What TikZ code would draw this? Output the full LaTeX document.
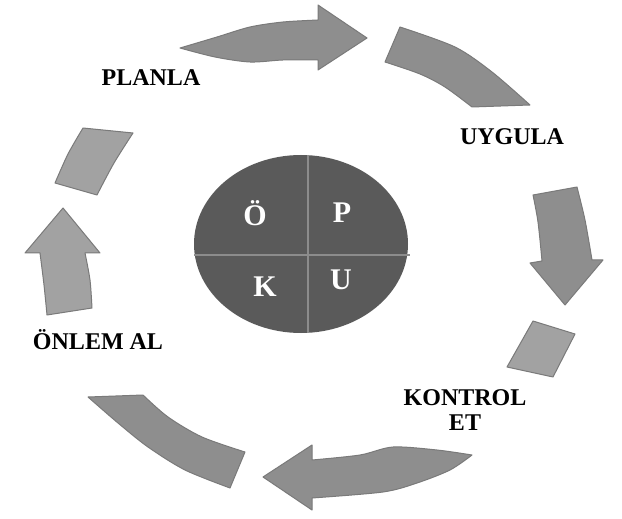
\documentclass[tikz,border=0pt]{standalone}
\usepackage{fontspec}
\setmainfont{Liberation Serif}
\usetikzlibrary{positioning}

\definecolor{cyclegray}{HTML}{8E8E8E}
\definecolor{cyclelight}{HTML}{A2A2A2}
\definecolor{cycleedge}{HTML}{7A7A7A}
\definecolor{hubgray}{HTML}{5A5A5A}
\definecolor{hubline}{HTML}{8C8C8C}

\begin{document}
\begin{tikzpicture}[
  x=0.5pt, y=-0.5pt,
  piece/.style={fill=cyclegray, draw=cycleedge, line width=0.5pt, line join=round},
  lightpiece/.style={piece, fill=cyclelight},
  lbl/.style={align=center, font=\fontsize{12}{12.5}\selectfont\bfseries, inner sep=0pt},
  letter/.style={text=white, font=\fontsize{15}{15}\selectfont\bfseries, inner sep=0pt}
]
\useasboundingbox[fill=white] (0,0) rectangle (622,519);

\filldraw[piece] plot[smooth] coordinates {(180,48) (217,37) (250,27) (283,22) (318,20)}
  -- (318,5) -- (367,38) -- (318,70)
  -- plot[smooth] coordinates {(318,60) (283,60) (250,62) (215,57) (180,48)} -- cycle;

\filldraw[piece] plot[smooth] coordinates {(400,27) (455,47) (492,72) (530,105)}
  -- (472,107)
  -- plot[smooth] coordinates {(472,107) (445,87) (420,74) (385,62)} -- cycle;

\filldraw[piece] (533,195) -- plot[smooth] coordinates {(577,187) (585,220) (592,260)}
  -- (603,260) -- (565,305) -- (530,263)
  -- plot[smooth] coordinates {(542,261) (538,222) (533,195)} -- cycle;

\filldraw[lightpiece] (533,321) -- (575,334) -- (553,377) -- (507,367) -- cycle;

\filldraw[piece] (263,477) -- (312,445)
  -- plot[smooth] coordinates {(312,460) (360,455) (393,447) (437,450) (472,455)}
  -- plot[smooth] coordinates {(472,455) (450,470) (417,483) (383,492) (312,498)}
  -- (312,510) -- cycle;

\filldraw[piece] plot[smooth] coordinates {(88,397) (118,423) (148,447) (185,470) (230,488)}
  -- (245,452)
  -- plot[smooth] coordinates {(245,452) (202,437) (168,417) (143,395)} -- cycle;

\filldraw[lightpiece] (63,208) -- (100,253)
  -- plot[smooth] coordinates {(85,253) (90,280) (92,308)}
  -- plot[smooth] coordinates {(47,315) (44,285) (40,253)}
  -- (25,253) -- cycle;

\filldraw[lightpiece] plot[smooth] coordinates {(83,128) (68,154) (55,183)}
  -- plot[smooth] coordinates {(97,195) (114,163) (133,133)} -- cycle;

\fill[hubgray] (301,244) ellipse [x radius=107, y radius=89];
\draw[hubline, line width=1pt] (308,155) -- (308,333);
\draw[hubline, line width=1pt] (194,255) -- (410,255);

\node[letter] (o) at (255,213) {Ö};
\node[letter] (p) at (342,213) {P};
\node[letter] (k) at (265,287) {K};
\node[letter] (u) at (341,280) {U};

\node[lbl] (planla) at (151,78) {PLANLA};
\node[lbl] (uygula) at (512,137) {UYGULA};
\node[lbl] (kontrol) at (465,410) {KONTROL\\ET};
\node[lbl] (onlem) at (98,340) {ÖNLEM AL};

\end{tikzpicture}
\end{document}
